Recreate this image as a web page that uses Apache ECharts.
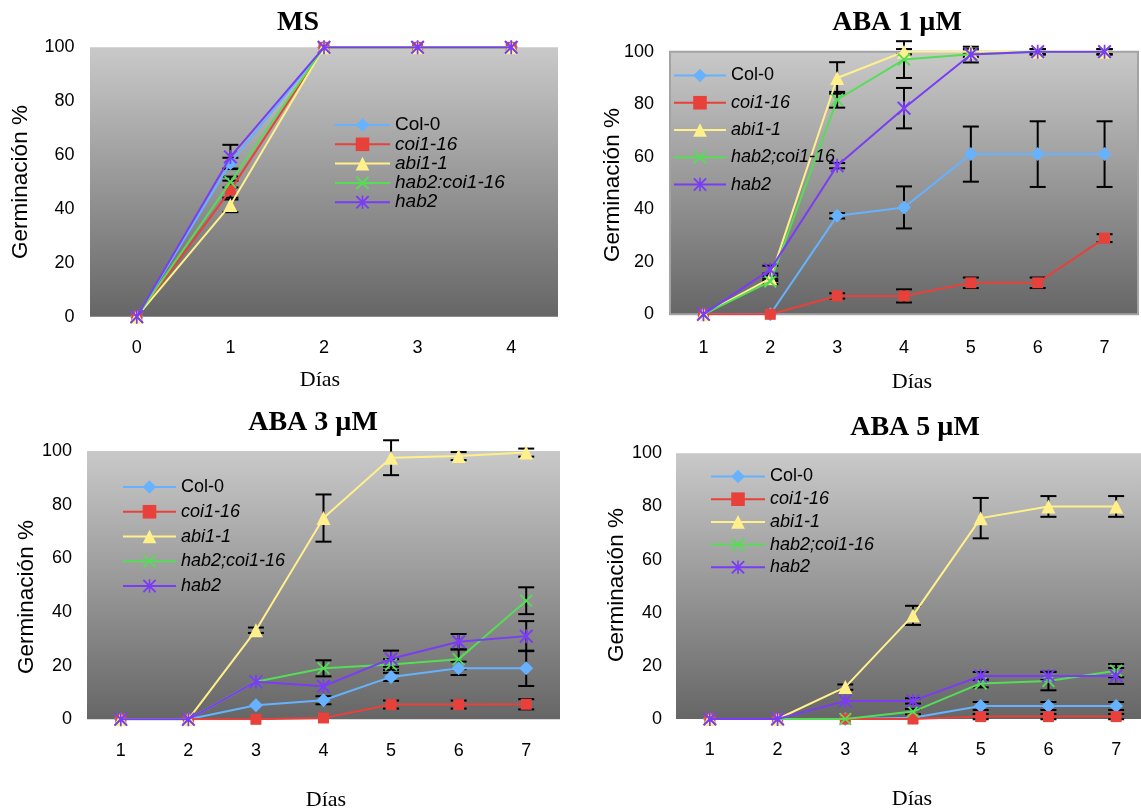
<!DOCTYPE html>
<html><head><meta charset="utf-8">
<script src="https://cdn.jsdelivr.net/npm/echarts@6/dist/echarts.min.js"></script>
<style>html,body{margin:0;padding:0;background:#fff}#c{width:1141px;height:812px}</style>
</head><body><div id="c"></div>
<script>
// ---------- DATA ----------
const namesABA = ['Col-0', 'coi1-16', 'abi1-1', 'hab2;coi1-16', 'hab2'];
const namesMS  = ['Col-0', 'coi1-16', 'abi1-1', 'hab2:coi1-16', 'hab2'];
const daysMS  = ['0', '1', '2', '3', '4'];
const daysABA = ['1', '2', '3', '4', '5', '6', '7'];
const yMin = 0, yMax = 100, yStep = 20;
const panelTitles = ['MS', 'ABA 1 µM', 'ABA 3 µM', 'ABA 5 µM'];
const xTitle = 'Días';
const yTitle = 'Germinación %';

// MS
const ms_col0      = [0, 57, 100, 100, 100];
const ms_coi1      = [0, 47, 100, 100, 100];
const ms_abi1      = [0, 41.5, 100, 100, 100];
const ms_hab2coi1  = [0, 50, 100, 100, 100];
const ms_hab2      = [0, 59.3, 100, 100, 100];
const ms_col0_err     = [0, 2, 0, 0, 0];
const ms_coi1_err     = [0, 3.5, 0, 0, 0];
const ms_abi1_err     = [0, 2.7, 0, 0, 0];
const ms_hab2coi1_err = [0, 2, 0, 0, 0];
const ms_hab2_err     = [0, 4.5, 0, 0, 0];

// ABA 1 uM
const a1_col0      = [0, 0, 37.5, 40.7, 61, 61, 61];
const a1_coi1      = [0, 0, 7, 7, 12, 12, 29];
const a1_abi1      = [0, 13.7, 90, 100, 100, 100, 100];
const a1_hab2coi1  = [0, 12.5, 81.7, 97, 99, 100, 100];
const a1_hab2      = [0, 17, 56.6, 78.5, 98.9, 100, 100];
const a1_col0_err     = [0, 0, 1, 8, 10.5, 12.5, 12.5];
const a1_coi1_err     = [0, 0, 1, 2.5, 2, 2, 1.5];
const a1_abi1_err     = [0, 1, 6, 1, 1, 1, 1];
const a1_hab2coi1_err = [0, 1, 3, 7, 1, 1, 1];
const a1_hab2_err     = [0, 1.5, 1, 7.7, 3, 1, 1];

// ABA 3 uM
const a3_col0      = [0, 0, 5.2, 7.1, 15.8, 19, 19];
const a3_coi1      = [0, 0, 0, 0.5, 5.5, 5.5, 5.6];
const a3_abi1      = [0, 0, 33.2, 75, 97.5, 98.1, 99.4];
const a3_hab2coi1  = [0, 0, 14, 19, 20.4, 22.4, 44.2];
const a3_hab2      = [0, 0, 14, 12.3, 22.6, 28.9, 31];
const a3_col0_err     = [0, 0, 0, 1.5, 1.5, 2.5, 6.6];
const a3_coi1_err     = [0, 0, 0, 0, 1.5, 1.5, 1.9];
const a3_abi1_err     = [0, 0, 1, 8.8, 6.5, 1.5, 1.5];
const a3_hab2coi1_err = [0, 0, 0, 3, 2, 3.7, 5];
const a3_hab2_err     = [0, 0, 0, 0, 3, 2.9, 5.6];

// ABA 5 uM
const a5_col0      = [0, 0, 0, 0.5, 4.9, 4.9, 4.9];
const a5_coi1      = [0, 0, 0, 0, 0.9, 0.9, 0.9];
const a5_abi1      = [0, 0, 12, 39, 75.6, 80, 80];
const a5_hab2coi1  = [0, 0, 0, 2.8, 13.4, 14.3, 18.2];
const a5_hab2      = [0, 0, 6.8, 6.8, 16.2, 16.2, 16.2];
const a5_col0_err     = [0, 0, 0, 0, 1.5, 1.5, 1.5];
const a5_coi1_err     = [0, 0, 0, 0, 1, 1, 1];
const a5_abi1_err     = [0, 0, 1, 3.6, 7.6, 3.9, 3.9];
const a5_hab2coi1_err = [0, 0, 0, 1, 1.5, 3.5, 2.5];
const a5_hab2_err     = [0, 0, 0, 1, 1.5, 1.5, 3];

// ---------- STYLE ----------
const SANS = 'Liberation Sans, Arial, sans-serif';
const SERIF = 'Liberation Serif, Times New Roman, serif';
const colors = ['#66b2ff', '#e8403a', '#fff08c', '#55dd55', '#7a3cf5'];
const X_PATH = 'path://M1,0 L5,4 L9,0 L10,1 L6,5 L10,9 L9,10 L5,6 L1,10 L0,9 L4,5 L0,1 Z';
const AST_PATH = 'path://M1,0 L5,4 L9,0 L10,1 L6,5 L10,9 L9,10 L5,6 L1,10 L0,9 L4,5 L0,1 Z M4.4,0 L5.6,0 L5.6,10 L4.4,10 Z';
const symbols = ['diamond', 'rect', 'triangle', X_PATH, AST_PATH];
const symSizes = [14, 11, 14, 13, 14];

const panels = [
  { names: namesMS, cats: daysMS,
    vals: [ms_col0, ms_coi1, ms_abi1, ms_hab2coi1, ms_hab2],
    errs: [ms_col0_err, ms_coi1_err, ms_abi1_err, ms_hab2coi1_err, ms_hab2_err],
    grid: {left: 90, top: 47.3, width: 468, height: 269.4},
    xMargin: 22, yMargin: 15.5, border: false,
    title: [298, 23], yName: [21, 182], xName: [320, 380],
    legend: {left: 334, top: 115.5, itemWidth: 55, itemGap: 0.3, fontSize: 19} },
  { names: namesABA, cats: daysABA,
    vals: [a1_col0, a1_coi1, a1_abi1, a1_hab2coi1, a1_hab2],
    errs: [a1_col0_err, a1_coi1_err, a1_abi1_err, a1_hab2coi1_err, a1_hab2_err],
    grid: {left: 670, top: 51.7, width: 468, height: 262.6},
    xMargin: 24.5, yMargin: 16, border: true,
    title: [897, 23], yName: [613, 185], xName: [912, 382],
    legend: {left: 673, top: 66.5, itemWidth: 52, itemGap: 9.25, fontSize: 18} },
  { names: namesABA, cats: daysABA,
    vals: [a3_col0, a3_coi1, a3_abi1, a3_hab2coi1, a3_hab2],
    errs: [a3_col0_err, a3_coi1_err, a3_abi1_err, a3_hab2coi1_err, a3_hab2_err],
    grid: {left: 87, top: 451, width: 473, height: 268.3},
    xMargin: 22.5, yMargin: 15, border: false,
    title: [313, 423], yName: [27, 597], xName: [326, 800],
    legend: {left: 122, top: 478, itemWidth: 53, itemGap: 6.75, fontSize: 18} },
  { names: namesABA, cats: daysABA,
    vals: [a5_col0, a5_coi1, a5_abi1, a5_hab2coi1, a5_hab2],
    errs: [a5_col0_err, a5_coi1_err, a5_abi1_err, a5_hab2coi1_err, a5_hab2_err],
    grid: {left: 676, top: 453.3, width: 474, height: 265.7},
    xMargin: 22, yMargin: 14, border: false,
    title: [915, 428], yName: [617, 585], xName: [912, 799],
    legend: {left: 710, top: 467.5, itemWidth: 54, itemGap: 4.7, fontSize: 18} }
];

const bgGradient = {type: 'linear', x: 0, y: 0, x2: 0, y2: 1,
  colorStops: [{offset: 0, color: '#c9c9c9'}, {offset: 1, color: '#666666'}]};

function renderErr(params, api) {
  const x = api.value(0), lo = api.value(1), hi = api.value(2);
  const a = api.coord([x, lo]), b = api.coord([x, hi]);
  const w = 8, st = {stroke: '#000', lineWidth: 2};
  return {type: 'group', children: [
    {type: 'line', shape: {x1: a[0], y1: a[1], x2: b[0], y2: b[1]}, style: st},
    {type: 'line', shape: {x1: a[0] - w, y1: a[1], x2: a[0] + w, y2: a[1]}, style: st},
    {type: 'line', shape: {x1: b[0] - w, y1: b[1], x2: b[0] + w, y2: b[1]}, style: st}
  ]};
}

const grid = [], xAxis = [], yAxis = [], series = [], legend = [], graphic = [];
panels.forEach((p, pi) => {
  grid.push(Object.assign({show: true, backgroundColor: bgGradient,
    borderWidth: p.border ? 2 : 0, borderColor: '#a3a3a3', containLabel: false, outerBoundsMode: 'none'}, p.grid));
  xAxis.push({type: 'category', gridIndex: pi, data: p.cats, boundaryGap: true,
    axisLine: {show: false}, axisTick: {show: false}, splitLine: {show: false},
    axisLabel: {margin: p.xMargin, color: '#000', fontSize: 18, fontFamily: SANS}});
  yAxis.push({type: 'value', gridIndex: pi, min: yMin, max: yMax, interval: yStep,
    axisLine: {show: false}, axisTick: {show: false}, splitLine: {show: false},
    axisLabel: {margin: p.yMargin, color: '#000', fontSize: 18, fontFamily: SANS}});
  const errData = [];
  p.vals.forEach((v, si) => {
    series.push({type: 'line', name: p.names[si], xAxisIndex: pi, yAxisIndex: pi, data: v,
      symbol: symbols[si], symbolSize: symSizes[si], showAllSymbol: true,
      lineStyle: {color: colors[si], width: 2}, itemStyle: {color: colors[si]},
      z: 3 + si * 0.01, animation: false});
    p.errs[si].forEach((e, i) => { if (e > 0) errData.push([i, v[i] - e, v[i] + e]); });
  });
  series.push({type: 'custom', xAxisIndex: pi, yAxisIndex: pi, data: errData,
    renderItem: renderErr, encode: {x: 0, y: [1, 2]}, z: 2, clip: false, animation: false, silent: true});
  const L = p.legend;
  legend.push({data: p.names, orient: 'vertical', left: L.left, top: L.top, padding: 0,
    itemWidth: L.itemWidth, itemHeight: 17, itemGap: L.itemGap, selectedMode: false,
    formatter: n => n === 'Col-0' ? '{n|' + n + '}' : '{i|' + n + '}',
    textStyle: {color: '#000', fontSize: L.fontSize, fontFamily: SANS, lineHeight: 17,
      rich: {n: {fontSize: L.fontSize, fontFamily: SANS, color: '#000', lineHeight: 17},
             i: {fontSize: L.fontSize, fontFamily: SANS, color: '#000', fontStyle: 'italic', lineHeight: 17}}}});
  graphic.push({type: 'text', x: p.title[0], y: p.title[1], z: 10,
    style: {text: panelTitles[pi], fontSize: 28, fontWeight: 'bold', fontFamily: SERIF, fill: '#000',
      textAlign: 'center', textVerticalAlign: 'middle'}});
  graphic.push({type: 'text', x: p.yName[0], y: p.yName[1], rotation: Math.PI / 2, z: 10,
    style: {text: yTitle, fontSize: 22.5, fontFamily: SANS, fill: '#000',
      textAlign: 'center', textVerticalAlign: 'middle'}});
  graphic.push({type: 'text', x: p.xName[0], y: p.xName[1], z: 10,
    style: {text: xTitle, fontSize: 22, fontFamily: SERIF, fill: '#000',
      textAlign: 'center', textVerticalAlign: 'middle'}});
});

const chart = echarts.init(document.getElementById('c'), null, {renderer: 'canvas'});
chart.setOption({animation: false, backgroundColor: '#fff', grid, xAxis, yAxis, series, legend, graphic});
</script></body></html>
